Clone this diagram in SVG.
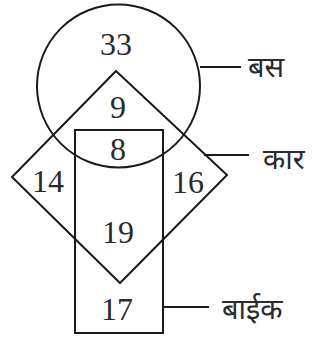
<svg xmlns="http://www.w3.org/2000/svg" width="321" height="339" viewBox="0 0 321 339">
<style>
.s{fill:none;stroke:#1a1a1a;stroke-width:2}
.n{font-family:"Liberation Serif","Times New Roman",serif;font-size:32px;fill:#2a2a2a;text-anchor:middle}
.h{font-family:"Noto Sans","Noto Sans Devanagari","Lohit Devanagari",sans-serif;font-size:29px;fill:#2a2a2a}
</style>
<rect width="321" height="339" fill="#fff"/>
<g id="bus"><circle class="s" cx="118.5" cy="86" r="81.5"/></g>
<g id="car"><polygon class="s" points="116,71 227,175 120,283 12,177"/></g>
<g id="bike"><rect class="s" x="75" y="130" width="88" height="203"/></g>
<g id="connectors">
<line class="s" x1="200" y1="67" x2="241" y2="67"/>
<line class="s" x1="204" y1="155" x2="249" y2="155"/>
<line class="s" x1="163" y1="307" x2="209" y2="307"/>
</g>
<g id="labels">
<text class="h" x="248" y="77">बस</text>
<text class="h" x="263" y="169">कार</text>
<text class="h" x="222" y="319">बाईक</text>
</g>
<g id="numbers">
<text class="n" x="116" y="55">33</text>
<text class="n" x="118" y="118">9</text>
<text class="n" x="118" y="160">8</text>
<text class="n" x="48" y="192">14</text>
<text class="n" x="188" y="193">16</text>
<text class="n" x="118" y="243">19</text>
<text class="n" x="117" y="320">17</text>
</g>
</svg>
